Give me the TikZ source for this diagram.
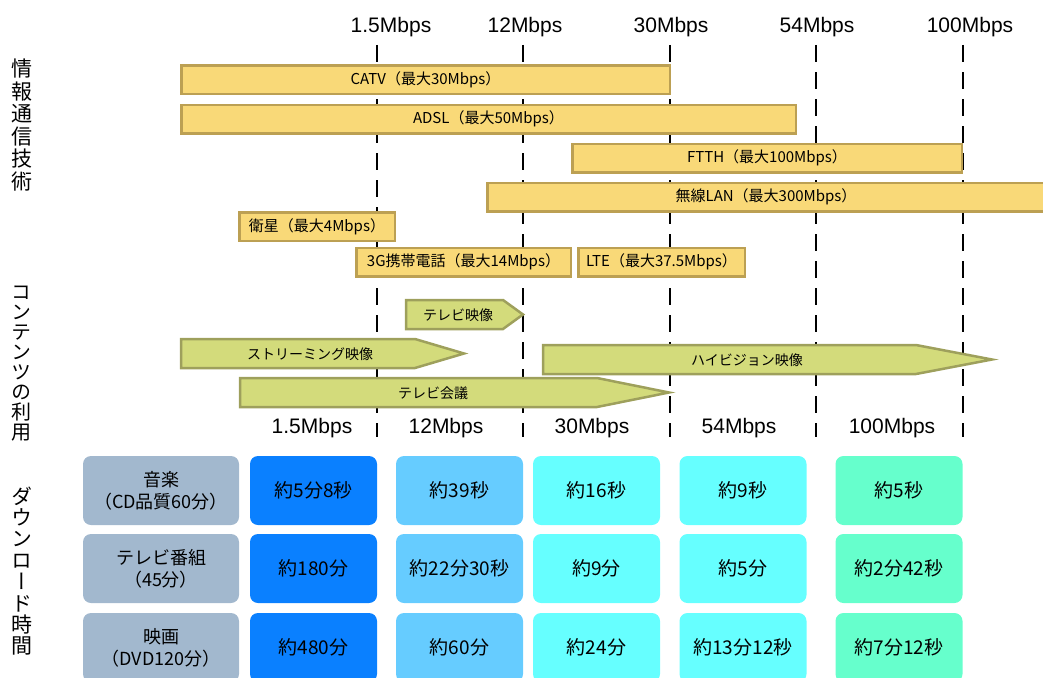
\documentclass[tikz,border=0pt]{standalone}
\usepackage{fontspec}
\setmainfont{Noto Sans CJK JP}
\newfontfamily\latfont{Liberation Sans}
\newfontfamily\vertfont[RawFeature=+vert]{Noto Sans CJK JP}
\definecolor{techfill}{HTML}{F9D978}
\definecolor{techline}{HTML}{BCA053}
\definecolor{contfill}{HTML}{D3DB7B}
\definecolor{contline}{HTML}{9EA05C}
\definecolor{rowgray}{HTML}{A2B8CE}
\definecolor{cellA}{HTML}{0A80FF}
\definecolor{cellB}{HTML}{66CCFF}
\definecolor{cellC}{HTML}{66FFFF}
\definecolor{cellD}{HTML}{66FFCC}
\tikzset{
 speedline/.style={line width=2.4pt, dash pattern=on 17pt off 10pt},
 speedlabel/.style={inner sep=0pt, font=\latfont\fontsize{21}{21}\selectfont},
 techbar/.style={draw=techline, fill=techfill, line width=2.5pt, inner sep=0pt, minimum height=28.5pt, font=\fontsize{15}{15}\selectfont},
 contarrow/.style={draw=contline, fill=contfill, line width=2.5pt, line join=miter},
 contlabel/.style={inner sep=0pt, font=\fontsize{14}{14}\selectfont},
 cell/.style={rounded corners=8pt, minimum width=127pt, minimum height=69pt, inner sep=0pt, font=\fontsize{19}{19}\selectfont},
 headcell/.style={cell, fill=rowgray, minimum width=156pt, align=center, font=\fontsize{18}{22}\selectfont},
 sidelabel/.style={align=center, inner sep=0pt}
}
\begin{document}
\begin{tikzpicture}[x=1pt,y=-1pt]
 \useasboundingbox (0,0) rectangle (1043,677);
 \clip (0,0) rectangle (1043,677);

 % speed scale
 \node (s1) at (391,27) [speedlabel] {1.5Mbps};
 \node (s2) at (525,27) [speedlabel] {12Mbps};
 \node (s3) at (671,27) [speedlabel] {30Mbps};
 \node (s4) at (817,27) [speedlabel] {54Mbps};
 \node (s5) at (970,27) [speedlabel] {100Mbps};
 \coordinate (t1) at (377,45); \coordinate (b1) at (377,437);
 \coordinate (t2) at (523,45); \coordinate (b2) at (523,437);
 \coordinate (t3) at (670,45); \coordinate (b3) at (670,437);
 \coordinate (t4) at (816,45); \coordinate (b4) at (816,437);
 \coordinate (t5) at (963,45); \coordinate (b5) at (963,437);
 \draw[speedline] (t1) -- (b1) (t2) -- (b2) (t3) -- (b3) (t4) -- (b4) (t5) -- (b5);

 % side labels
 \node (tech) at (22,125) [sidelabel, font=\vertfont\fontsize{21}{22.5}\selectfont] {情\\報\\通\\信\\技\\術};
 \node (cont) at (22,364) [sidelabel, font=\vertfont\fontsize{20}{20}\selectfont] {コ\\ン\\テ\\ン\\ツ\\の\\利\\用};
 \node (dl) at (22,571) [sidelabel, font=\vertfont\fontsize{21}{21.4}\selectfont] {ダ\\ウ\\ン\\ロ\\ー\\ド\\時\\間};

 % technologies
 \node (catv) at (425.5,79.5) [techbar, minimum width=488.5pt] {CATV（最大30Mbps）};
 \node (adsl) at (488.5,119) [techbar, minimum width=614.5pt] {ADSL（最大50Mbps）};
 \node (ftth) at (767,158) [techbar, minimum width=389.5pt] {FTTH（最大100Mbps）};
 \node (wlan) at (766,197) [techbar, minimum width=557.5pt] {無線LAN（最大300Mbps）};
 \node (sat) at (317,226.5) [techbar, minimum width=155.5pt] {衛星（最大4Mbps）};
 \node (g3) at (463.5,262) [techbar, minimum width=214.5pt] {3G携帯電話（最大14Mbps）};
 \node (lte) at (661.5,262) [techbar, minimum width=166.5pt] {LTE（最大37.5Mbps）};

 % contents
 \draw[contarrow] (406,300) -- (503,300) -- (523,314.5) -- (503,329) -- (406,329) -- cycle;
 \node (tvv) at (458,315) [contlabel] {テレビ映像};
 \draw[contarrow] (181,339) -- (415,339) -- (464,353.5) -- (415,368) -- (181,368) -- cycle;
 \node (stream) at (310,354) [contlabel] {ストリーミング映像};
 \draw[contarrow] (240,378) -- (597,378) -- (669,392.5) -- (597,407) -- (240,407) -- cycle;
 \node (conf) at (433,393.5) [contlabel] {テレビ会議};
 \draw[contarrow] (543,345) -- (916,345) -- (992,359.5) -- (916,374) -- (543,374) -- cycle;
 \node (hv) at (747,360) [contlabel] {ハイビジョン映像};

 % lower scale
 \node (l1) at (312,428) [speedlabel] {1.5Mbps};
 \node (l2) at (446,428) [speedlabel] {12Mbps};
 \node (l3) at (592,428) [speedlabel] {30Mbps};
 \node (l4) at (739,428) [speedlabel] {54Mbps};
 \node (l5) at (892,428) [speedlabel] {100Mbps};

 % download times
 \node (music) at (161,490.5) [headcell] {音楽\\（CD品質60分）};
 \node (m1) at (313.5,490.5) [cell, fill=cellA] {約5分8秒};
 \node (m2) at (459.5,490.5) [cell, fill=cellB] {約39秒};
 \node (m3) at (596.5,490.5) [cell, fill=cellC] {約16秒};
 \node (m4) at (743,490.5) [cell, fill=cellC] {約9秒};
 \node (m5) at (899,490.5) [cell, fill=cellD] {約5秒};

 \node (tvp) at (161,568.5) [headcell] {テレビ番組\\（45分）};
 \node (p1) at (313.5,568.5) [cell, fill=cellA] {約180分};
 \node (p2) at (459.5,568.5) [cell, fill=cellB] {約22分30秒};
 \node (p3) at (596.5,568.5) [cell, fill=cellC] {約9分};
 \node (p4) at (743,568.5) [cell, fill=cellC] {約5分};
 \node (p5) at (899,568.5) [cell, fill=cellD] {約2分42秒};

 \node (movie) at (161,647.5) [headcell] {映画\\（DVD120分）};
 \node (v1) at (313.5,647.5) [cell, fill=cellA] {約480分};
 \node (v2) at (459.5,647.5) [cell, fill=cellB] {約60分};
 \node (v3) at (596.5,647.5) [cell, fill=cellC] {約24分};
 \node (v4) at (743,647.5) [cell, fill=cellC] {約13分12秒};
 \node (v5) at (899,647.5) [cell, fill=cellD] {約7分12秒};
\end{tikzpicture}
\end{document}
